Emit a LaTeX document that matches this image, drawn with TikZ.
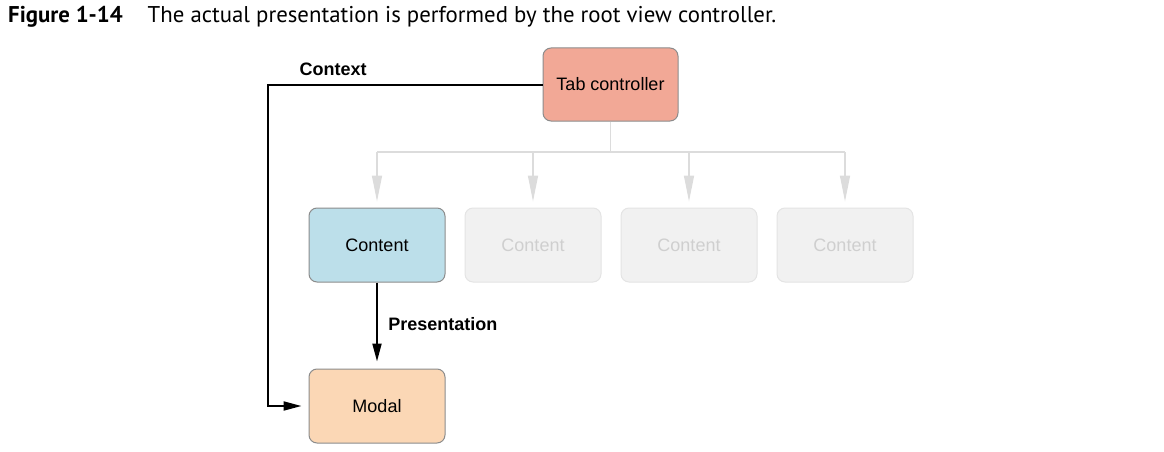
\documentclass[tikz,border=0pt]{standalone}
\usepackage{fontspec}
\setmainfont{Liberation Sans}
\newfontfamily\capfont{PT Sans}
\usetikzlibrary{positioning,arrows.meta}
\definecolor{tabfill}{HTML}{F2A896}
\definecolor{contfill}{HTML}{BCDFEA}
\definecolor{modfill}{HTML}{FBD7B5}
\definecolor{boxline}{HTML}{8C8C8C}
\definecolor{ghostfill}{HTML}{F1F1F1}
\definecolor{ghostline}{HTML}{E4E4E4}
\definecolor{ghosttext}{HTML}{CFCFCF}
\definecolor{treeline}{HTML}{DCDCDC}
\tikzset{
  vbox/.style={draw=boxline,line width=1pt,rounded corners=8pt,minimum width=136pt,
    minimum height=74pt,font=\fontsize{18}{20}\selectfont},
  ghost/.style={vbox,draw=ghostline,fill=ghostfill,text=ghosttext},
  link/.style={line width=2pt,-{Triangle[length=18pt,width=9pt]}},
  tree/.style={treeline,line width=1.5pt},
  lbl/.style={font=\fontsize{18}{20}\selectfont\bfseries}
}
\begin{document}
\begin{tikzpicture}[x=1pt,y=-1pt]
  \useasboundingbox (0,0) rectangle (1164,452);
  \node[anchor=base west,inner sep=0pt,font=\capfont\fontsize{22.8}{25}\selectfont] (cap) at (8,23)
    {\textbf{Figure 1-14}\hspace{25pt}The actual presentation is performed by the root view controller.};
  \node[vbox,fill=tabfill,minimum width=135pt,minimum height=73pt] (tab) at (610.5,84.5) {Tab controller};
  \node[vbox,fill=contfill] (c1) at (377,245) {Content};
  \foreach \i/\j in {2/1,3/2,4/3}
    \node[ghost,right=19pt of c\j] (c\i) {Content};
  \node[vbox,fill=modfill] (modal) at (377,406) {Modal};
  \coordinate (fork) at (tab.south |- 0,152);
  \draw[tree] (tab.south) -- (fork);
  \draw[tree] (c1 |- fork) -- (c4 |- fork);
  \foreach \i in {1,...,4}
    \draw[tree,-{Triangle[length=26pt,width=10pt]}] (c\i |- fork) -- ([yshift=6pt]c\i.north);
  \coordinate (ctx) at (268,0);
  \draw[link] (tab.west) -- (ctx |- tab.west) -- (ctx |- modal.west) -- ([xshift=-7pt]modal.west);
  \node[lbl,anchor=base west] (ctxlbl) at (296,75) {Context};
  \draw[link] (c1.south) -- ([yshift=7pt]modal.north) node[lbl,midway,right=7pt,yshift=-2pt] (prlbl) {Presentation};
\end{tikzpicture}
\end{document}
